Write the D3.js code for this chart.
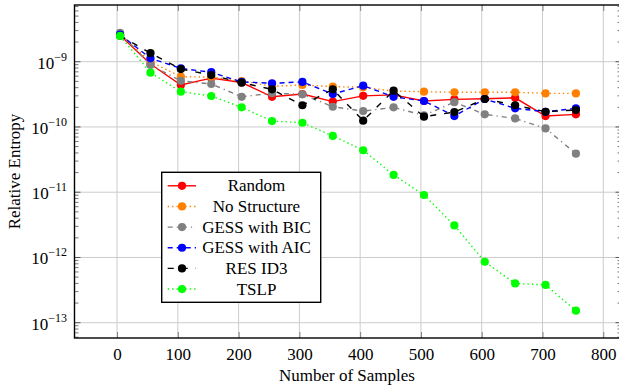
<!DOCTYPE html>
<html>
<head>
<meta charset="utf-8">
<script src="https://cdn.jsdelivr.net/npm/d3@7"></script>
<style>
  body { margin: 0; background: #fff; }
  svg text { font-family: "Liberation Serif", "Tinos", "Times New Roman", "DejaVu Serif", serif !important; fill: #000; }
</style>
</head>
<body>
<script>
  // sample sizes (x values)
  const samples = [5, 55, 105, 155, 205, 255, 305, 355, 405, 455, 505, 555, 605, 655, 705, 755];

  // relative entropy for each method
  const random      = [2.55e-9, 9.2e-10, 4.4e-10, 5.6e-10, 4.8e-10, 2.9e-10, 3.2e-10, 2.45e-10, 3.0e-10, 3.1e-10, 2.5e-10, 2.65e-10, 2.7e-10, 2.8e-10, 1.47e-10, 1.56e-10];
  const noStructure = [2.6e-9, 1.0e-9, 5.9e-10, 5.8e-10, 5.06e-10, 4.2e-10, 4.4e-10, 4.15e-10, 4.05e-10, 3.55e-10, 3.47e-10, 3.4e-10, 3.4e-10, 3.4e-10, 3.27e-10, 3.27e-10];
  const gessBIC     = [2.78e-9, 8.9e-10, 5.1e-10, 4.55e-10, 2.9e-10, 3.3e-10, 3.16e-10, 2.04e-10, 1.75e-10, 2.0e-10, 1.5e-10, 2.4e-10, 1.56e-10, 1.35e-10, 9.5e-11, 3.9e-11];
  const gessAIC     = [2.6e-9, 1.13e-9, 7.9e-10, 6.9e-10, 4.9e-10, 4.67e-10, 4.9e-10, 3.2e-10, 4.3e-10, 2.9e-10, 2.5e-10, 1.47e-10, 2.68e-10, 1.93e-10, 1.71e-10, 1.93e-10];
  const resID3      = [2.5e-9, 1.35e-9, 7.7e-10, 6.25e-10, 4.77e-10, 3.77e-10, 2.15e-10, 3.77e-10, 1.25e-10, 3.6e-10, 1.44e-10, 1.69e-10, 2.68e-10, 2.15e-10, 1.71e-10, 1.82e-10];
  const tslp        = [2.48e-9, 6.8e-10, 3.47e-10, 2.98e-10, 2.0e-10, 1.23e-10, 1.16e-10, 7.3e-11, 4.4e-11, 1.84e-11, 9.06e-12, 3.1e-12, 8.6e-13, 4.0e-13, 3.8e-13, 1.53e-13];

  const seriesNames = ["Random", "No Structure", "GESS with BIC", "GESS with AIC", "RES ID3", "TSLP"];
  const seriesValues = [random, noStructure, gessBIC, gessAIC, resID3, tslp];

  const xTicks = [0, 100, 200, 300, 400, 500, 600, 700, 800];
  const yDecades = [-13, -12, -11, -10, -9];

  // styles per series
  const colors = ["#ff0000", "#ff8000", "#808080", "#0000ff", "#000000", "#00ff00"];
  const dashes = [null, "1.4,3", "5,4,1.2,4", "5,4", "6,8", "1.4,3"];

  const W = 619, H = 385;
  const pLeft = 74.5, pRight = 621.5, pTop = 5, pBottom = 338;
  const serif = '"Liberation Serif", "Tinos", "Times New Roman", "DejaVu Serif", serif';
  const fs = "17px";

  let svg = d3.select("body").append("svg")
    .attr("width", W)
    .attr("height", H)
    .attr("font-family", serif);

  let x = d3.scaleLinear().domain([-70, 830]).range([pLeft, pRight]);
  let y = d3.scaleLog().domain([Math.pow(10, -13.234), Math.pow(10, -8.131)]).range([pBottom, pTop]);

  // grid
  svg.append("g").selectAll("line")
    .data(xTicks)
    .enter().append("line")
      .attr("x1", d => x(d)).attr("x2", d => x(d))
      .attr("y1", pTop).attr("y2", pBottom)
      .attr("stroke", "#cccccc").attr("stroke-width", 1);

  svg.append("g").selectAll("line")
    .data(yDecades)
    .enter().append("line")
      .attr("x1", pLeft).attr("x2", pRight)
      .attr("y1", d => y(Math.pow(10, d))).attr("y2", d => y(Math.pow(10, d)))
      .attr("stroke", "#cccccc").attr("stroke-width", 1);

  // x ticks bottom and top (inward)
  svg.append("g")
    .attr("transform", `translate(0, ${pBottom})`)
    .call(d3.axisBottom(x).tickValues(xTicks).tickSize(-6).tickPadding(10).tickFormat(d3.format("d")))
    .attr("font-family", serif)
    .attr("font-size", 17)
    .call(g => g.select(".domain").remove())
    .call(g => g.selectAll("line").attr("stroke", "#808080"));

  svg.append("g")
    .attr("transform", `translate(0, ${pTop})`)
    .call(d3.axisTop(x).tickValues(xTicks).tickSize(-6).tickFormat(""))
    .call(g => g.select(".domain").remove())
    .call(g => g.selectAll("line").attr("stroke", "#808080"));

  // y minor and major ticks, both sides
  let minor = [];
  for (let k = -14; k <= -8; k++) {
    for (let m = 2; m <= 9; m++) {
      let v = m * Math.pow(10, k);
      if (y(v) > pTop && y(v) < pBottom) minor.push(v);
    }
  }
  [pLeft, pRight].forEach(function(px) {
    let dir = px === pLeft ? 1 : -1;
    svg.append("g").selectAll("line")
      .data(minor)
      .enter().append("line")
        .attr("x1", px).attr("x2", px + dir * 4)
        .attr("y1", d => y(d)).attr("y2", d => y(d))
        .attr("stroke", "#555").attr("stroke-width", 0.8);
    svg.append("g").selectAll("line")
      .data(yDecades)
      .enter().append("line")
        .attr("x1", px).attr("x2", px + dir * 6)
        .attr("y1", d => y(Math.pow(10, d))).attr("y2", d => y(Math.pow(10, d)))
        .attr("stroke", "#555").attr("stroke-width", 1);
  });

  // y tick labels 10^k
  let ylab = svg.append("g").selectAll("text")
    .data(yDecades)
    .enter().append("text")
      .attr("x", 67)
      .attr("y", d => y(Math.pow(10, d)) + 7)
      .attr("text-anchor", "end")
      .style("font-size", fs);
  ylab.append("tspan").text("10");
  ylab.append("tspan")
    .attr("dy", -8)
    .style("font-size", "12px")
    .text(d => "\u2212" + (-d));

  // series lines and markers
  seriesValues.forEach(function(vals, i) {
    let pts = samples.map((s, j) => [s, vals[j]]);
    let line = d3.line().x(d => x(d[0])).y(d => y(d[1]));
    svg.append("path")
      .datum(pts)
      .attr("d", line)
      .attr("fill", "none")
      .attr("stroke", colors[i])
      .attr("stroke-width", 1.4)
      .attr("stroke-dasharray", dashes[i]);
    svg.append("g").selectAll("circle")
      .data(pts)
      .enter().append("circle")
        .attr("cx", d => x(d[0]))
        .attr("cy", d => y(d[1]))
        .attr("r", 4.1)
        .attr("fill", colors[i]);
  });

  // frame
  svg.append("rect")
    .attr("x", pLeft).attr("y", pTop)
    .attr("width", pRight - pLeft).attr("height", pBottom - pTop)
    .attr("fill", "none").attr("stroke", "#000").attr("stroke-width", 1.4);

  // axis labels
  svg.append("text")
    .attr("x", (pLeft + pRight) / 2 - 1)
    .attr("y", 381)
    .attr("text-anchor", "middle")
    .style("font-size", fs)
    .text("Number of Samples");

  svg.append("text")
    .attr("transform", `translate(20, ${(pTop + pBottom) / 2}) rotate(-90)`)
    .attr("text-anchor", "middle")
    .style("font-size", fs)
    .text("Relative Entropy");

  // legend
  let lg = svg.append("g");
  lg.append("rect")
    .attr("x", 161.7).attr("y", 172.3)
    .attr("width", 159).attr("height", 130)
    .attr("fill", "#fff").attr("stroke", "#000").attr("stroke-width", 1.4);

  seriesNames.forEach(function(name, i) {
    let cy = 185.8 + i * 20.65;
    lg.append("line")
      .attr("x1", 167.7).attr("x2", 196)
      .attr("y1", cy).attr("y2", cy)
      .attr("stroke", colors[i]).attr("stroke-width", 1.4)
      .attr("stroke-dasharray", dashes[i]);
    lg.append("circle")
      .attr("cx", 182).attr("cy", cy).attr("r", 4.1)
      .attr("fill", colors[i]);
    lg.append("text")
      .attr("x", 256.5).attr("y", cy + 5.5)
      .attr("text-anchor", "middle")
      .style("font-size", fs)
      .text(name);
  });
</script>
</body>
</html>
